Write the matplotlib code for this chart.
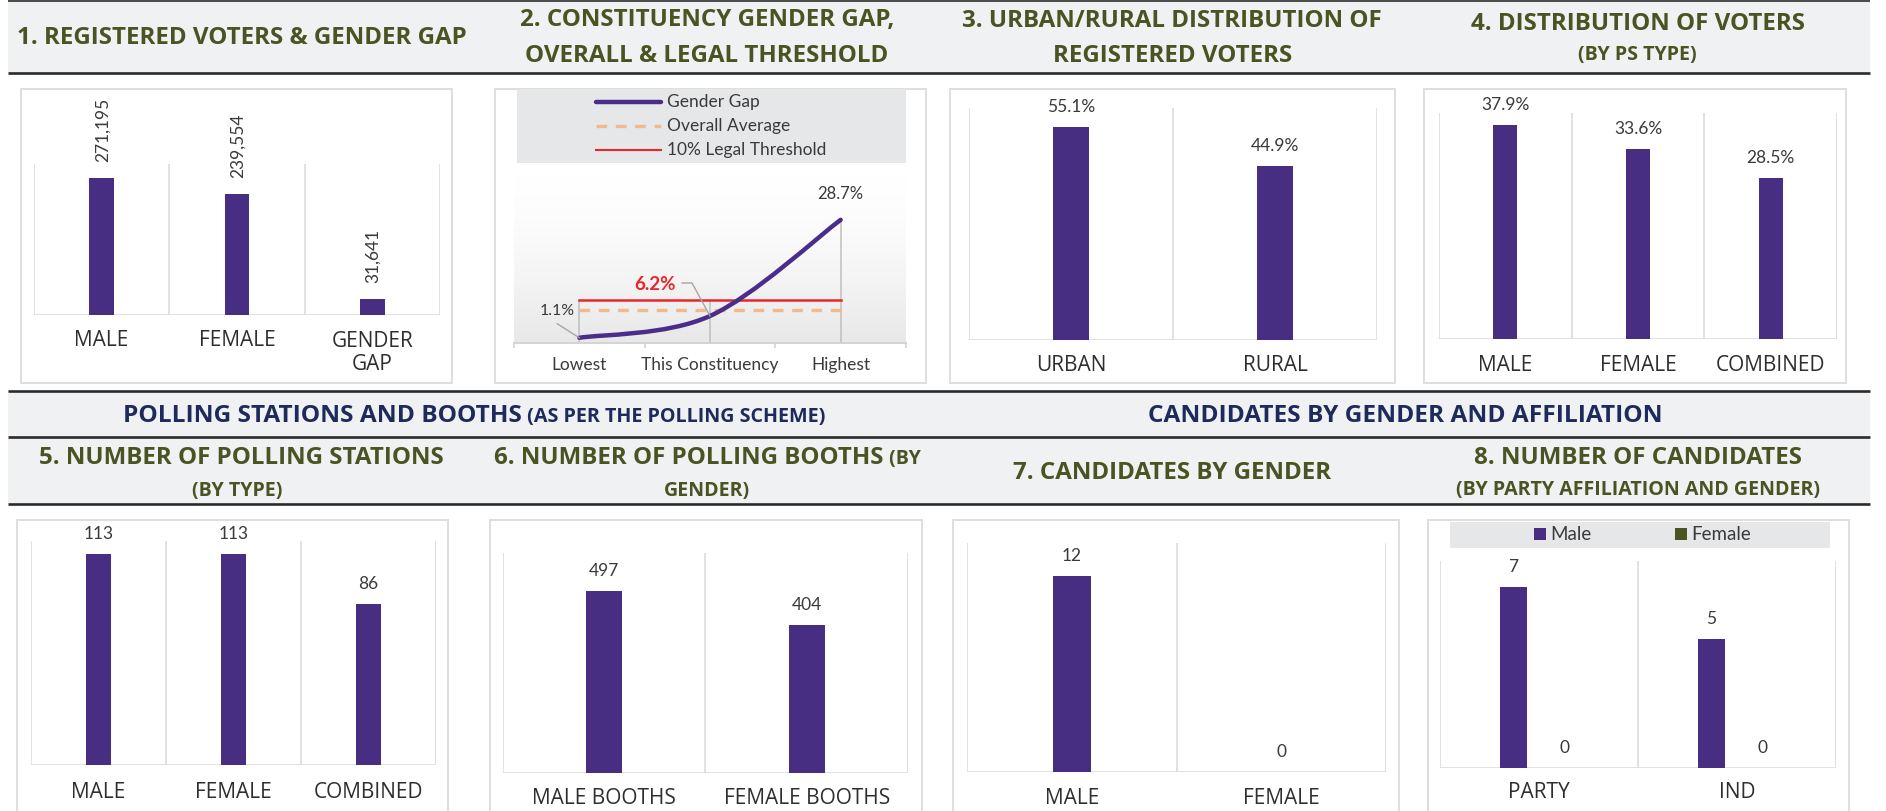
import numpy as np
import matplotlib
matplotlib.use("Agg")
import matplotlib.pyplot as plt
from matplotlib.patches import Rectangle, PathPatch
from matplotlib.lines import Line2D
from matplotlib.path import Path
from matplotlib.font_manager import FontProperties, fontManager, weight_dict
from matplotlib.transforms import blended_transform_factory
from matplotlib.colors import LinearSegmentedColormap

# ---------------- data ----------------
voters_cats = ["MALE", "FEMALE", "GENDER\nGAP"]
voters_vals = [271195, 239554, 31641]

gap_cats = ["Lowest", "This Constituency", "Highest"]
gap_vals = [1.1, 6.2, 28.7]
overall_average = 7.7
legal_threshold = 10.0

urban_cats = ["URBAN", "RURAL"]
urban_vals = [55.1, 44.9]

pstype_cats = ["MALE", "FEMALE", "COMBINED"]
pstype_vals = [37.9, 33.6, 28.5]

stations_cats = ["MALE", "FEMALE", "COMBINED"]
stations_vals = [113, 113, 86]

booths_cats = ["MALE BOOTHS", "FEMALE BOOTHS"]
booths_vals = [497, 404]

cand_cats = ["MALE", "FEMALE"]
cand_vals = [12, 0]

aff_cats = ["PARTY", "IND"]
aff_male = [7, 5]
aff_female = [0, 0]

# ---------------- style ----------------
W, H = 1886, 811
PURPLE = "#482E83"
OLIVE = "#4A5322"
NAVY = "#1E2A5C"
BAND = "#F0F1F3"
RULE = "#2B2B2B"
GRID = "#D9D9D9"
TXT = "#3A3A3A"
TICKC = "#2E2E2E"
RED = "#E8262B"
PEACH = "#F4B88C"


def has_font(name, min_w=0):
    for f in fontManager.ttflist:
        if f.name == name:
            w = f.weight if isinstance(f.weight, int) else weight_dict.get(f.weight, 400)
            if w >= min_w:
                return True
    return False


HEAD = "Open Sans" if has_font("Open Sans", 600) else ("Lato" if has_font("Lato", 600) else "DejaVu Sans")
BODY = "Lato" if has_font("Lato") else "DejaVu Sans"
TICKF = "Open Sans" if has_font("Open Sans") else "DejaVu Sans"

fig = plt.figure(figsize=(W / 100, H / 100), dpi=100)
fig.patch.set_facecolor("white")


def fx(x):
    return x / W


def fy(y):
    return 1 - y / H


def rect(x0, y0, x1, y1, **kw):
    r = Rectangle((fx(x0), fy(y1)), (x1 - x0) / W, (y1 - y0) / H,
                  transform=fig.transFigure, **kw)
    fig.add_artist(r)
    return r


def hrule(x0, x1, y, lw=1.9, color=RULE):
    fig.add_artist(Line2D([fx(x0), fx(x1)], [fy(y), fy(y)], transform=fig.transFigure,
                          lw=lw, color=color, zorder=-1, solid_capstyle="butt"))


# bands and rules
rect(8, 1, 1870, 73, facecolor=BAND, edgecolor="none", zorder=-2)
rect(8, 391, 1870, 504, facecolor=BAND, edgecolor="none", zorder=-2)
hrule(8, 1870, 1.2, lw=1.2)
for yy in (73, 391, 437, 504):
    hrule(8, 1870, yy)

# panel boxes
panel_boxes = [(21, 89, 452, 383), (495, 89, 926, 383), (950, 89, 1395, 383), (1424, 89, 1846, 383),
               (17, 520, 448, 830), (490, 520, 922, 830), (953, 520, 1399, 830), (1428, 520, 1849, 830)]
for b in panel_boxes:
    rect(*b, facecolor="white", edgecolor="#DEDEDE", lw=1.4, zorder=-1)


def place_axes(x0, y0, x1, y1):
    ax = fig.add_axes([x0 / W, 1 - y1 / H, (x1 - x0) / W, (y1 - y0) / H])
    ax.patch.set_visible(False)
    for s in ax.spines.values():
        s.set_visible(False)
    ax.set_xticks([])
    ax.set_yticks([])
    return ax


def bar_panel(axbox, cats, series, ymax, fmt, tick_y, rotate=False, width=0.18,
              offsets=(0,), colors=(PURPLE,)):
    ax = place_axes(*axbox)
    n = len(cats)
    xs = np.arange(n)
    ax.set_xlim(-0.5, n - 0.5)
    ax.set_ylim(0, ymax)
    for b in np.arange(n + 1) - 0.5:
        ax.axvline(b, color=GRID, lw=1.1, zorder=1)
    ax.axhline(0, color=GRID, lw=1.8, zorder=2)
    for vals, off, col in zip(series, offsets, colors):
        ax.bar(xs + off, vals, width=width, color=col, zorder=3)
        for x, v in zip(xs + off, vals):
            if rotate:
                ax.annotate(fmt(v), (x, v), xytext=(1, 16), textcoords="offset pixels",
                            rotation=90, ha="center", va="bottom", fontsize=12.5,
                            family=BODY, color=TXT)
            else:
                ax.annotate(fmt(v), (x, v), xytext=(0, 20), textcoords="offset pixels",
                            ha="center", va="center", fontsize=12.5, family=BODY, color=TXT)
    tr = blended_transform_factory(ax.transData, fig.transFigure)
    for x, c in zip(xs, cats):
        nl = c.count("\n")
        ax.text(x, fy(tick_y + nl * 12), c, transform=tr, ha="center", va="center",
                linespacing=1.15, fontsize=15, family=TICKF, color=TICKC)
    return ax


# 1. registered voters
bar_panel((34, 164, 440, 315), voters_cats, [voters_vals], 300000,
          lambda v: f"{v:,.0f}", 341, rotate=True)
# 3. urban / rural
bar_panel((969, 108, 1377, 340), urban_cats, [urban_vals], 60,
          lambda v: f"{v:.1f}%", 366)
# 4. by PS type
bar_panel((1439, 113, 1837, 339), pstype_cats, [pstype_vals], 40,
          lambda v: f"{v:.1f}%", 366)
# 5. polling stations
bar_panel((31, 541, 436, 765), stations_cats, [stations_vals], 120,
          lambda v: f"{v:d}", 792)
# 6. polling booths
bar_panel((503, 553, 908, 773), booths_cats, [booths_vals], 600,
          lambda v: f"{v:d}", 799)
# 7. candidates by gender
bar_panel((967, 543, 1386, 772), cand_cats, [cand_vals], 14,
          lambda v: f"{v:d}", 799)
# 8. candidates by affiliation
bar_panel((1440, 561, 1836, 768), aff_cats, [aff_male, aff_female], 8,
          lambda v: f"{v:d}", 793, width=0.137, offsets=(-0.13, 0.13), colors=(PURPLE, OLIVE))

# legend of panel 8
rect(1450, 522, 1830, 548, facecolor="#E6E7E9", edgecolor="none", zorder=0)
rect(1534, 528, 1546, 540, facecolor=PURPLE, edgecolor="none", zorder=1)
rect(1675, 528, 1687, 540, facecolor=OLIVE, edgecolor="none", zorder=1)
fig.text(fx(1550), fy(535), "Male", ha="left", va="center", fontsize=13.5, family=BODY, color=TXT)
fig.text(fx(1691), fy(535), "Female", ha="left", va="center", fontsize=13.5, family=BODY, color=TXT)

# ---------------- 2. gender gap line chart ----------------
ymax_gap = 40
ax2 = place_axes(514, 171.5, 906, 342.5)
ax2.set_xlim(-0.5, 2.5)
ax2.set_ylim(0, ymax_gap)
grad = np.linspace(0, 1, 256) ** 1.6
ax2.imshow(grad[:, None], cmap=LinearSegmentedColormap.from_list("g", ["#FFFFFF", "#E8E8E8"]),
           extent=(-0.5, 2.5, 0, ymax_gap), aspect="auto", zorder=0, interpolation="bilinear")
ax2.set_xlim(-0.5, 2.5)
ax2.set_ylim(0, ymax_gap)
ax2.spines["bottom"].set_visible(True)
ax2.spines["bottom"].set_color("#D0D0D0")
ax2.spines["bottom"].set_linewidth(1.3)
ax2.set_xticks([-0.5, 0.5, 1.5, 2.5])
ax2.set_xticklabels([])
ax2.tick_params(axis="x", length=3.5, width=1.1, color="#D0D0D0", direction="out")
xs2 = np.arange(len(gap_vals))
for i, v in enumerate(gap_vals):
    ax2.vlines(i, 0, max(v, overall_average, legal_threshold), color="#BFBFBF", lw=1.1, zorder=2)
ax2.plot([xs2[0], xs2[-1]], [legal_threshold] * 2, color=RED, lw=1.8, zorder=3)
ax2.plot([xs2[0], xs2[-1]], [overall_average] * 2, color=PEACH, lw=2.4, dashes=(3.2, 2.6), zorder=3)

# smoothed line through the three points (Bezier, Excel-like smoothing)
P = np.column_stack([xs2, gap_vals]).astype(float)
n = len(P)
D = np.zeros_like(P)
for i in range(n):
    a = P[max(i - 1, 0)]
    b = P[min(i + 1, n - 1)]
    D[i] = (b - a) / 6.0
verts = [P[0]]
codes = [Path.MOVETO]
for i in range(n - 1):
    verts += [P[i] + D[i], P[i + 1] - D[i + 1], P[i + 1]]
    codes += [Path.CURVE4] * 3
ax2.add_patch(PathPatch(Path(verts, codes), facecolor="none", edgecolor="#4A2D8A", lw=3.2,
                        capstyle="round", zorder=4))

tr2 = blended_transform_factory(ax2.transData, fig.transFigure)
for i, c in enumerate(gap_cats):
    ax2.text(i, fy(365), c, transform=tr2, ha="center", va="center", fontsize=12.5,
             family=BODY, color=TXT)

# data labels with leader lines
ax2.annotate(f"{gap_vals[2]:.1f}%", (2, gap_vals[2]), xytext=(0, 26), textcoords="offset pixels",
             ha="center", va="center", fontsize=12, family=BODY, color=TXT)
ax2.annotate(f"{gap_vals[1]:.1f}%", (1, gap_vals[1]), xytext=(-55, 31), textcoords="offset pixels",
             ha="center", va="center", fontsize=13.5, family=BODY, weight="bold", color=RED)
ax2.annotate(f"{gap_vals[0]:.1f}%", (0, gap_vals[0]), xytext=(-22, 27), textcoords="offset pixels",
             ha="center", va="center", fontsize=11.5, family=BODY, color=TXT)


def leader(pt, offs):
    px, py = ax2.transData.transform(pt)
    xsl = [px] + [px + o[0] for o in offs]
    ysl = [py] + [py + o[1] for o in offs]
    fig.add_artist(Line2D(xsl, ysl, transform=None, color="#A6A6A6", lw=1.0, zorder=5))


leader((1, gap_vals[1]), [(-18, 33), (-28, 33)])
leader((0, gap_vals[0]), [(-22, 14)])

# legend of panel 2
rect(517, 89, 906, 163, facecolor="#E6E7E9", edgecolor="none", zorder=0)
leg_rows = [("Gender Gap", dict(color="#4A2D8A", lw=3.2, solid_capstyle="round")),
            ("Overall Average", dict(color=PEACH, lw=2.4, dashes=(3.2, 2.6))),
            ("10% Legal Threshold", dict(color=RED, lw=1.5))]
for k, (lab, sty) in enumerate(leg_rows):
    yy = 102 + 24 * k
    fig.add_artist(Line2D([fx(596), fx(661)], [fy(yy), fy(yy)], transform=fig.transFigure,
                          zorder=2, **sty))
    fig.text(fx(667), fy(yy), lab, ha="left", va="center", fontsize=12.5, family=BODY, color=TXT)

# ---------------- headers ----------------
fp = FontProperties(family=HEAD, weight="bold")
renderer = fig.canvas.get_renderer()


def tw(s, size):
    p = fp.copy()
    p.set_size(size)
    w, h, d = renderer.get_text_width_height_descent(s, p, ismath=False)
    return w


header_lines = [
    (241.5, 35, [("1. REGISTERED VOTERS & GENDER GAP", "G", 459)]),
    (707, 17, [("2. CONSTITUENCY GENDER GAP,", "G", 392)]),
    (707, 53, [("OVERALL & LEGAL THRESHOLD", "G", 360)]),
    (1171.5, 18, [("3. URBAN/RURAL DISTRIBUTION OF", "G", 409)]),
    (1173, 53, [("REGISTERED VOTERS", "G", 236)]),
    (1638, 21, [("4. DISTRIBUTION OF VOTERS", "G", 328)]),
    (1637.5, 53, [("(BY PS TYPE)", "g", 115)]),
    (474.5, 413, [("POLLING STATIONS AND BOOTHS", "N", 395), (" (AS PER THE POLLING SCHEME)", "n", 304)]),
    (1405.5, 413, [("CANDIDATES BY GENDER AND AFFILIATION", "N", 515)]),
    (241, 455, [("5. NUMBER OF POLLING STATIONS", "G", 404)]),
    (237, 489, [("(BY TYPE)", "g", 98)]),
    (707.5, 455, [("6. NUMBER OF POLLING BOOTHS", "G", 389), (" (BY", "g", None)]),
    (707, 489, [("GENDER)", "g", 86)]),
    (1172.5, 470, [("7. CANDIDATES BY GENDER", "G", 329)]),
    (1638.5, 455, [("8. NUMBER OF CANDIDATES", "G", 335)]),
    (1638, 488, [("(BY PARTY AFFILIATION AND GENDER)", "g", 364)]),
]
fits = {}
for cx, cy, parts in header_lines:
    for s, g, tgt in parts:
        if tgt:
            fits.setdefault(g, []).append(10 * tgt / tw(s, 10))
gsize = {g: float(np.median(v)) for g, v in fits.items()}
gcolor = {"G": OLIVE, "g": OLIVE, "N": NAVY, "n": NAVY}

for cx, cy, parts in header_lines:
    widths = [tw(s, gsize[g]) for s, g, _ in parts]
    big = max(gsize[g] for _, g, _ in parts)
    cap = 0.72 * big * 100 / 72
    x = cx - sum(widths) / 2
    base = cy + cap / 2
    for (s, g, _), w in zip(parts, widths):
        fig.text(fx(x), fy(base), s, ha="left", va="baseline", fontproperties=fp,
                 fontsize=gsize[g], color=gcolor[g])
        x += w

fig.savefig("out.png", dpi=100, facecolor="white")
